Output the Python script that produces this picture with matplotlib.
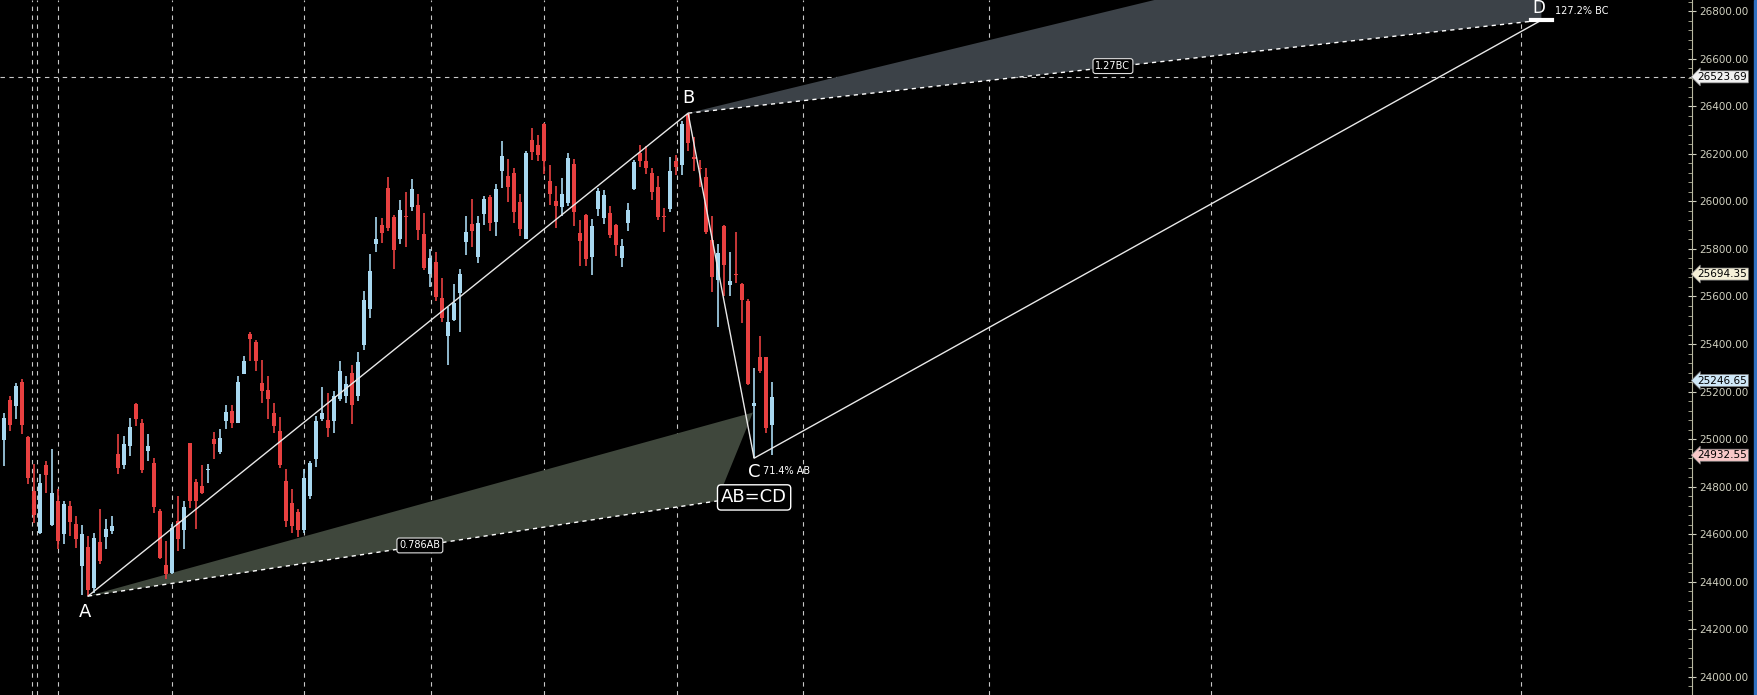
import numpy as np
import matplotlib
matplotlib.use("Agg")
import matplotlib.pyplot as plt
from matplotlib.ticker import MultipleLocator, FormatStrFormatter

# candle data
opens = [24997, 25166, 25140, 25242, 25010, 24784, 24605, 24892, 24640, 24740,
         24600, 24720, 24645, 24465, 24545, 24375, 24568, 24590, 24612, 24938,
         24890, 24970, 25146, 25066, 24950, 24900, 24697, 24470, 24436, 24656,
         24620, 24982, 24820, 24805, 24870, 25000, 24946, 25075, 25117, 25070,
         25276, 25442, 25408, 25237, 25208, 25110, 25035, 24822, 24730, 24695,
         24620, 24760, 24917, 25085, 25080, 25075, 25170, 25180, 25278, 25183,
         25398, 25547, 25822, 25900, 26056, 25934, 25841, 25939, 25978, 25984,
         25864, 25696, 25745, 25594, 25435, 25500, 25614, 25831, 25905, 25766,
         25948, 26017, 25915, 26129, 26107, 26118, 25998, 25842, 26258, 26237,
         26326, 26086, 26003, 25978, 25995, 26157, 25866, 25943, 25768, 25967,
         25929, 25950, 25901, 25761, 25908, 26051, 26202, 26171, 26118, 26059,
         25939, 25967, 26171, 26153, 26368, 26188, 26139, 26101, 25838, 25670,
         25897, 25649, 25695, 25653, 25583, 25140, 25347, 25347, 25060]
highs = [25111, 25181, 25237, 25251, 25013, 24894, 24852, 24908, 24960, 24789,
         24740, 24740, 24677, 24637, 24593, 24607, 24705, 24666, 24677, 25023,
         25013, 25090, 25153, 25086, 25023, 24922, 24705, 24572, 24642, 24761,
         24740, 24982, 24834, 24890, 24894, 25029, 25041, 25142, 25142, 25265,
         25349, 25450, 25419, 25335, 25265, 25150, 25094, 24873, 24792, 24708,
         24873, 24908, 25097, 25219, 25195, 25202, 25328, 25265, 25310, 25366,
         25622, 25780, 25934, 25930, 26102, 25944, 26007, 26038, 26094, 26032,
         25951, 25800, 25786, 25678, 25556, 25654, 25716, 25937, 26010, 25940,
         26021, 26028, 26074, 26252, 26178, 26140, 26032, 26214, 26308, 26280,
         26329, 26154, 26066, 26098, 26203, 26178, 25923, 25948, 25926, 26056,
         26046, 25979, 25906, 25842, 25993, 26175, 26238, 26231, 26140, 26105,
         25971, 26186, 26196, 26340, 26371, 26270, 26175, 26140, 25939, 25821,
         25901, 25789, 25873, 25656, 25588, 25298, 25432, 25347, 25242]
lows = [24887, 25034, 25083, 25020, 24810, 24649, 24600, 24775, 24635, 24537,
        24558, 24593, 24544, 24344, 24340, 24355, 24474, 24540, 24600, 24852,
        24876, 24928, 25055, 24859, 24908, 24691, 24495, 24411, 24432, 24530,
        24537, 24712, 24621, 24768, 24817, 24918, 24936, 25041, 25048, 25070,
        25272, 25328, 25286, 25153, 25086, 25027, 24880, 24632, 24607, 24590,
        24607, 24749, 24884, 25076, 25010, 25027, 25160, 25153, 25062, 25160,
        25377, 25510, 25786, 25825, 25874, 25716, 25822, 25808, 25958, 25839,
        25710, 25640, 25580, 25492, 25314, 25496, 25450, 25776, 25808, 25741,
        25902, 25874, 25853, 26056, 25996, 25909, 25853, 25842, 26175, 26168,
        26116, 25986, 25888, 25937, 25982, 25895, 25730, 25727, 25692, 25937,
        25906, 25846, 25769, 25724, 25874, 26046, 26144, 26116, 26004, 25920,
        25873, 25957, 26112, 26112, 26210, 26126, 26062, 25863, 25621, 25471,
        25603, 25600, 25656, 25488, 25228, 24920, 25277, 25025, 24934]
closes = [25088, 25060, 25222, 25060, 24836, 24680, 24817, 24850, 24772, 24572,
          24727, 24650, 24578, 24600, 24366, 24585, 24488, 24624, 24635, 24880,
          24981, 25052, 25086, 24870, 24971, 24715, 24502, 24432, 24627, 24582,
          24715, 24740, 24740, 24775, 24874, 24980, 25006, 25113, 25070, 25240,
          25327, 25420, 25327, 25202, 25168, 25054, 24890, 24656, 24635, 24618,
          24838, 24898, 25076, 25110, 25048, 25183, 25285, 25230, 25145, 25323,
          25586, 25706, 25842, 25866, 25888, 25796, 25962, 25933, 26051, 25878,
          25720, 25760, 25598, 25510, 25494, 25572, 25695, 25873, 25877, 25908,
          26011, 25908, 26051, 26191, 26059, 25957, 25883, 26202, 26209, 26195,
          26171, 26031, 25981, 26031, 26181, 25957, 25835, 25757, 25897, 26045,
          26027, 25857, 25815, 25813, 25964, 26167, 26171, 26139, 26041, 25936,
          25933, 26128, 26143, 26326, 26247, 26177, 26135, 25873, 25681, 25785,
          25731, 25664, 25691, 25586, 25232, 25154, 25288, 25046, 25179]

# pattern points (bar index, price)
A = (14, 24340)
B = (114, 26371)
C = (125, 24920)
D = (256.2, 26762)
ab_upper = (124.8, 25112)   # 0.786AB fan
ab_lower = (118.8, 24740)
bc_upper = (256.2, 27242)   # 1.27BC fan
ab_label = (69.3, 24553)
bc_label = (184.8, 26569)
h_line = 26523.69
grid_x = [4.67, 5.5, 9, 28, 50, 71.2, 90, 112.2, 133.2, 164.2, 201.2, 252.8]
price_tags = [(26523.69, "#f0f0f0"), (25694.35, "#f5f0d8"),
              (25246.65, "#cfe8f8"), (24932.55, "#f8c8c8")]

UP = "#a8d8f0"
DOWN = "#e84040"

fig = plt.figure(figsize=(17.57, 6.95), dpi=100, facecolor="black")
ax = fig.add_axes([0, 0, 1692 / 1757, 1])
ax.set_facecolor("black")

for gx in grid_x:
    ax.axvline(gx, color="#c8c8c8", ls=(0, (4, 4)), lw=0.8, zorder=1)
ax.axhline(h_line, color="#c8c8c8", ls=(0, (4, 4)), lw=0.8, zorder=1)

# fans
ax.fill([A[0], ab_upper[0], ab_lower[0]], [A[1], ab_upper[1], ab_lower[1]],
        color="#3f473c", zorder=2, lw=0)
ax.plot([A[0], ab_lower[0]], [A[1], ab_lower[1]], color="white", ls=(0, (3, 3)), lw=1, zorder=3)
ax.fill([B[0], bc_upper[0], D[0]], [B[1], bc_upper[1], D[1]],
        color="#3c4248", zorder=2, lw=0)
ax.plot([B[0], D[0]], [B[1], D[1]], color="white", ls=(0, (3, 3)), lw=1, zorder=3)

# candles
x = np.arange(len(opens))
for i in x:
    o, h, l, c = opens[i], highs[i], lows[i], closes[i]
    col = UP if c >= o else DOWN
    ax.vlines(i, l, h, color=col, lw=1.2, zorder=4)
    ax.bar(i, max(abs(c - o), 4), bottom=min(o, c), width=0.62, color=col, zorder=5)

# ABCD legs
ax.plot([A[0], B[0], C[0], D[0]], [A[1], B[1], C[1], D[1]], color="#e8e8e8", lw=1, zorder=6)
ax.plot([D[0] - 1.7, D[0] + 1.7], [D[1], D[1]], color="white", lw=3, zorder=6)

tk = dict(color="white", zorder=7)
ax.text(A[0] - 0.5, A[1] - 30, "A", fontsize=13, ha="center", va="top", **tk)
ax.text(B[0], B[1] + 25, "B", fontsize=13, ha="center", va="bottom", **tk)
ax.text(C[0], C[1] - 20, "C", fontsize=13, ha="center", va="top", **tk)
ax.text(C[0] + 1.5, C[1] - 55, "71.4% AB", fontsize=7, ha="left", va="center", **tk)
ax.text(C[0], C[1] - 165, "AB=CD", fontsize=13, ha="center", va="center", **tk,
        bbox=dict(boxstyle="round,pad=0.2", fc="black", ec="white", lw=1))
ax.text(D[0] - 0.5, D[1] + 12, "D", fontsize=12, ha="center", va="bottom", **tk)
ax.text(D[0] + 2.2, D[1] + 40, "127.2% BC", fontsize=7, ha="left", va="center", **tk)
ax.text(*ab_label, "0.786AB", fontsize=7, ha="center", va="center", **tk,
        bbox=dict(boxstyle="round,pad=0.25", fc="black", ec="#e0e0e0", lw=0.8))
ax.text(*bc_label, "1.27BC", fontsize=7, ha="center", va="center", **tk,
        bbox=dict(boxstyle="round,pad=0.25", fc="black", ec="#e0e0e0", lw=0.8))

ax.set_xlim(-0.67, 281.3)
ax.set_ylim(23924, 26847)
ax.set_xticks([])
for s in ["top", "left", "bottom"]:
    ax.spines[s].set_visible(False)
ax.spines["right"].set_color("#b8b8a0")
ax.yaxis.tick_right()
ax.yaxis.set_major_locator(MultipleLocator(200))
ax.yaxis.set_minor_locator(MultipleLocator(40))
ax.yaxis.set_major_formatter(FormatStrFormatter("%.2f"))
ax.tick_params(axis="y", which="major", colors="#d0d0c0", length=6, direction="inout",
               labelsize=7.5, pad=2)
ax.tick_params(axis="y", which="minor", colors="#b8b8a0", length=3, direction="in")

for val, fc in price_tags:
    ax.annotate(f"{val:.2f}", xy=(1, val), xycoords=("axes fraction", "data"),
                xytext=(4, 0), textcoords="offset points", fontsize=7.5, color="black",
                va="center", ha="left", zorder=8,
                bbox=dict(boxstyle="larrow,pad=0.1", fc=fc, ec="#808080", lw=0.5))

fig.patches.append(plt.Rectangle((0.9985, 0), 0.0015, 1, transform=fig.transFigure,
                                 color="#3070c0"))
fig.savefig("out.png", dpi=100, facecolor="black")
